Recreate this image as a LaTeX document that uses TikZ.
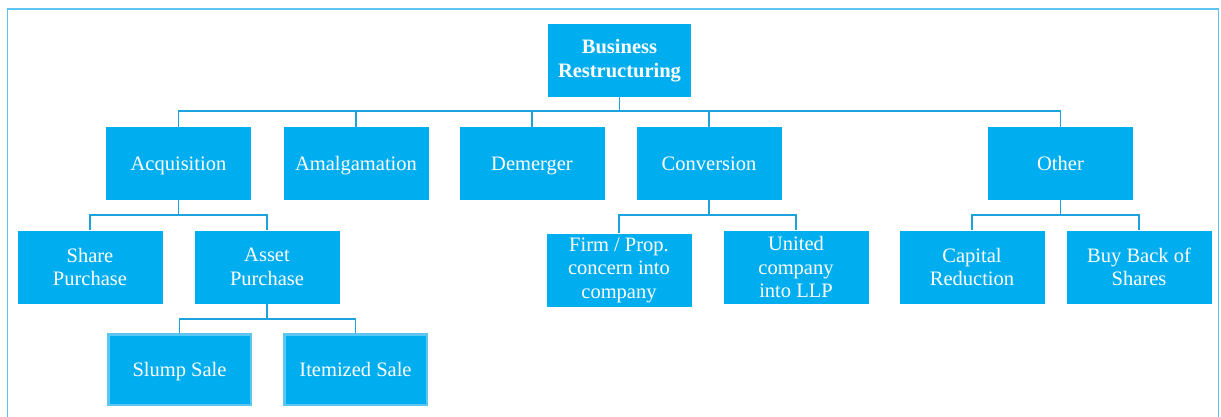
\documentclass[tikz,border=0pt]{standalone}
\usepackage{fontspec}
\setmainfont{Liberation Serif}
\usetikzlibrary{positioning}
\definecolor{boxblue}{HTML}{00AEEF}
\definecolor{linkblue}{HTML}{1AA3DD}
\definecolor{frameblue}{HTML}{5CC6F0}
\tikzset{
  unit/.style={fill=boxblue, text=white, align=center, inner sep=2pt,
    minimum width=145pt, minimum height=73pt, font=\fontsize{20.5}{23.5}\selectfont},
  oneline/.style={text height=17pt, text depth=3pt},
  subunit/.style={unit, oneline, draw=frameblue, line width=2.5pt,
    minimum width=142.5pt, minimum height=70.5pt},
  link/.style={draw=linkblue, line width=1.6pt},
}

\begin{document}
\begin{tikzpicture}[x=1pt, y=-1pt]
  \useasboundingbox (0,0) rectangle (1221,417);
  \draw[frameblue, line width=1.8pt] (7.5,417) |- (1218.5,9) -- (1218.5,417);

  % Top
  \node[unit, minimum width=143pt, font=\fontsize{20.5}{23.5}\selectfont\bfseries] (top) at (619.5,60.5) {Business\\Restructuring};

  % First level
  \node[unit, oneline] (acq) at (178.5,163.5) {Acquisition};
  \node[unit, oneline] (amal) at (356,163.5) {Amalgamation};
  \node[unit, oneline] (dem) at (532,163.5) {Demerger};
  \node[unit, oneline] (conv) at (709,163.5) {Conversion};
  \node[unit, oneline] (other) at (1060.5,163.5) {Other};

  % Second level
  \node[unit] (share) at (90,267) {Share\\Purchase};
  \node[unit] (asset) at (267,267) {Asset\\Purchase};
  \node[unit] (firm) at (619,270) {Firm / Prop.\\concern into\\company};
  \node[unit] (united) at (796,267) {United\\company\\into LLP};
  \node[unit] (cap) at (972,267) {Capital\\Reduction};
  \node[unit] (buy) at (1139,267) {Buy Back of\\Shares};

  % Third level
  \node[subunit] (slump) at (179.5,369.5) {Slump Sale};
  \node[subunit] (item) at (355.5,369.5) {Itemized Sale};

  % Links
  \foreach \kid in {acq,amal,dem,conv,other}
    \draw[link] (top.south) -- ++(0,14) -| (\kid.north);
  \foreach \kid in {share,asset}
    \draw[link] (acq.south) -- ++(0,15) -| (\kid.north);
  \foreach \kid in {firm,united}
    \draw[link] (conv.south) -- ++(0,15) -| (\kid.north);
  \foreach \kid in {cap,buy}
    \draw[link] (other.south) -- ++(0,15) -| (\kid.north);
  \foreach \kid in {slump,item}
    \draw[link] (asset.south) -- ++(0,15) -| (\kid.north);

\end{tikzpicture}
\end{document}
